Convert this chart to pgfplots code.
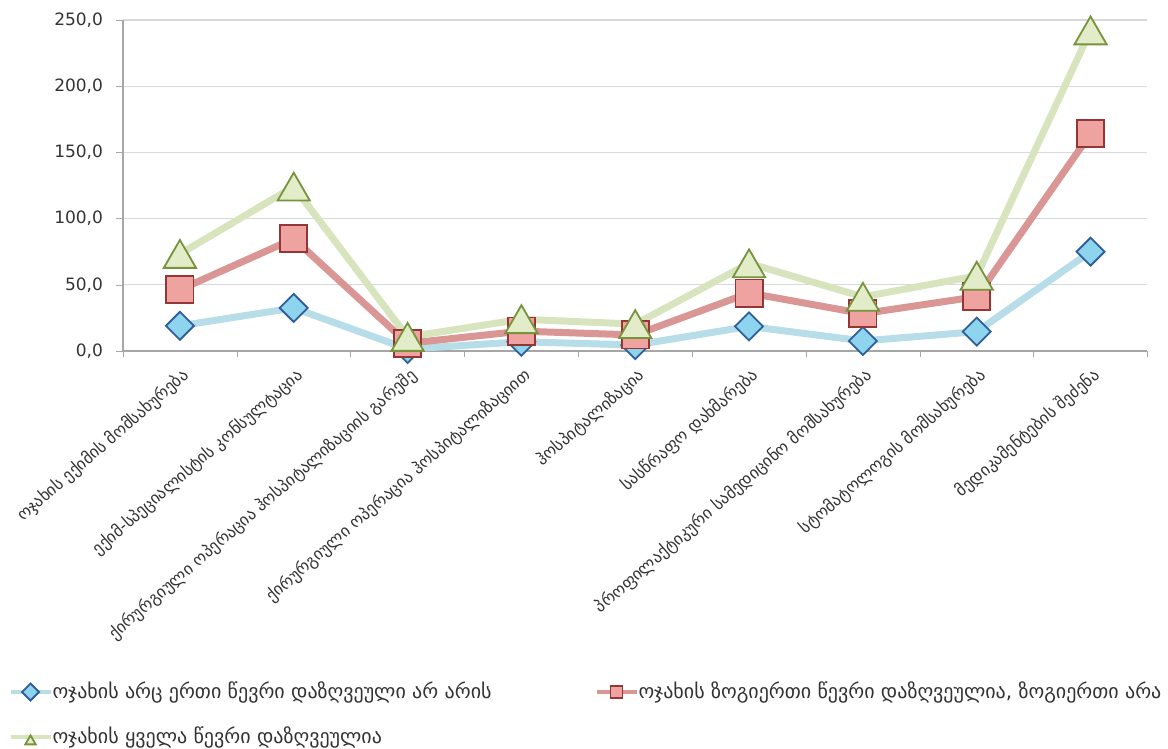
\documentclass[border=0pt]{standalone}
\usepackage{fontspec}
\setmainfont{DejaVu Sans}
\usepackage{pgfplots}
\pgfplotsset{compat=1.18}
\definecolor{lblue}{HTML}{B7DDE8}
\definecolor{fblue}{HTML}{8ED4EE}
\definecolor{dblue}{HTML}{2F5F98}
\definecolor{lred}{HTML}{D99694}
\definecolor{fred}{HTML}{EFA3A1}
\definecolor{dred}{HTML}{943634}
\definecolor{lgreen}{HTML}{D7E4BD}
\definecolor{fgreen}{HTML}{E2ECC8}
\definecolor{dgreen}{HTML}{77933C}
\definecolor{axgray}{HTML}{A6A6A6}
\definecolor{grgray}{HTML}{D9D9D9}
\definecolor{txt}{HTML}{333333}
\begin{document}
\begin{tikzpicture}
\useasboundingbox (-61.5pt,-199pt) rectangle (522.5pt,175.5pt);
\begin{axis}[
  anchor=south west, at={(0pt,0pt)},
  scale only axis, width=512.25pt, height=165.5pt,
  xmin=0.5, xmax=9.5, ymin=0, ymax=250,
  axis lines=left,
  axis line style={-, draw=axgray, line width=0.6pt},
  ytick={0,50,...,250},
  xtick={1,...,9},
  xticklabels={ოჯახის ექიმის მომსახურება, ექიმ-სპეციალისტის კონსულტაცია, ქირურგიული ოპერაცია ჰოსპიტალიზაციის გარეშე, ქირურგიული ოპერაცია ჰოსპიტალიზაციით, ჰოსპიტალიზაცია, სასწრაფო დახმარება, პროფილაქტიკური სამედიცინო მომსახურება, სტომატოლოგის მომსახურება, მედიკამენტების შეძენა},
  minor xtick={0.5,1.5,...,9.5},
  xtick align=outside, ytick align=outside,
  major x tick style={draw=none},
  minor x tick style={draw=axgray},
  minor tick length=3pt,
  major y tick style={draw=axgray},
  major tick length=3.5pt,
  ymajorgrids, major grid style={draw=grgray, line width=0.6pt},
  /pgf/number format/.cd, fixed, fixed zerofill, precision=1, use comma, assume math mode=true,
  /pgfplots/.cd,
  yticklabel style={font=\fontsize{8.5}{10}\selectfont, text=txt, xshift=-3pt},
  xticklabel style={font=\fontsize{8.3}{9}\selectfont, text=txt, rotate=41, anchor=east, yshift=-8pt, xshift=1pt},
  legend columns=2,
  legend style={at={(-0.118,-0.975)}, anchor=north west, draw=none, fill=none,
    font=\fontsize{10}{12}\selectfont, text=txt, row sep=8.5pt,
    /tikz/every even column/.append style={column sep=4pt},
    /tikz/every odd column/.append style={column sep=-2pt}},
  legend cell align=left,
  legend image code/.code={\draw[mark repeat=2,mark phase=2,#1,line width=2pt,mark size=3pt] plot coordinates {(0pt,0pt) (10pt,0pt) (20pt,0pt)};},
]
\addplot[lblue, line width=3.5pt, mark=square*, mark size=4.95pt,
  mark options={rotate=45, fill=fblue, draw=dblue, line width=0.9pt}]
  coordinates {(1,19.0) (2,32.5) (3,1.5) (4,7.0) (5,4.5) (6,18.6) (7,7.6) (8,14.6) (9,75.0)};
\addlegendentry{\makebox[265pt][l]{ოჯახის არც ერთი წევრი დაზღვეული არ არის}}
\addplot[lred, line width=3.5pt, mark=square*, mark size=6.8pt,
  mark options={fill=fred, draw=dred, line width=0.9pt}]
  coordinates {(1,46.3) (2,84.8) (3,5.8) (4,15.0) (5,12.1) (6,43.8) (7,28.2) (8,41.0) (9,164.1)};
\addlegendentry{ოჯახის ზოგიერთი წევრი დაზღვეულია, ზოგიერთი არა}
\addplot[lgreen, line width=3.5pt, mark=triangle*, mark size=9.3pt,
  mark options={yshift=-2.3pt, fill=fgreen, draw=dgreen, line width=0.9pt}]
  coordinates {(1,73.3) (2,124.1) (3,10.6) (4,24.0) (5,20.3) (6,66.2) (7,40.9) (8,56.8) (9,242.1)};
\addlegendentry{ოჯახის ყველა წევრი დაზღვეულია}
\end{axis}
\end{tikzpicture}
\end{document}
